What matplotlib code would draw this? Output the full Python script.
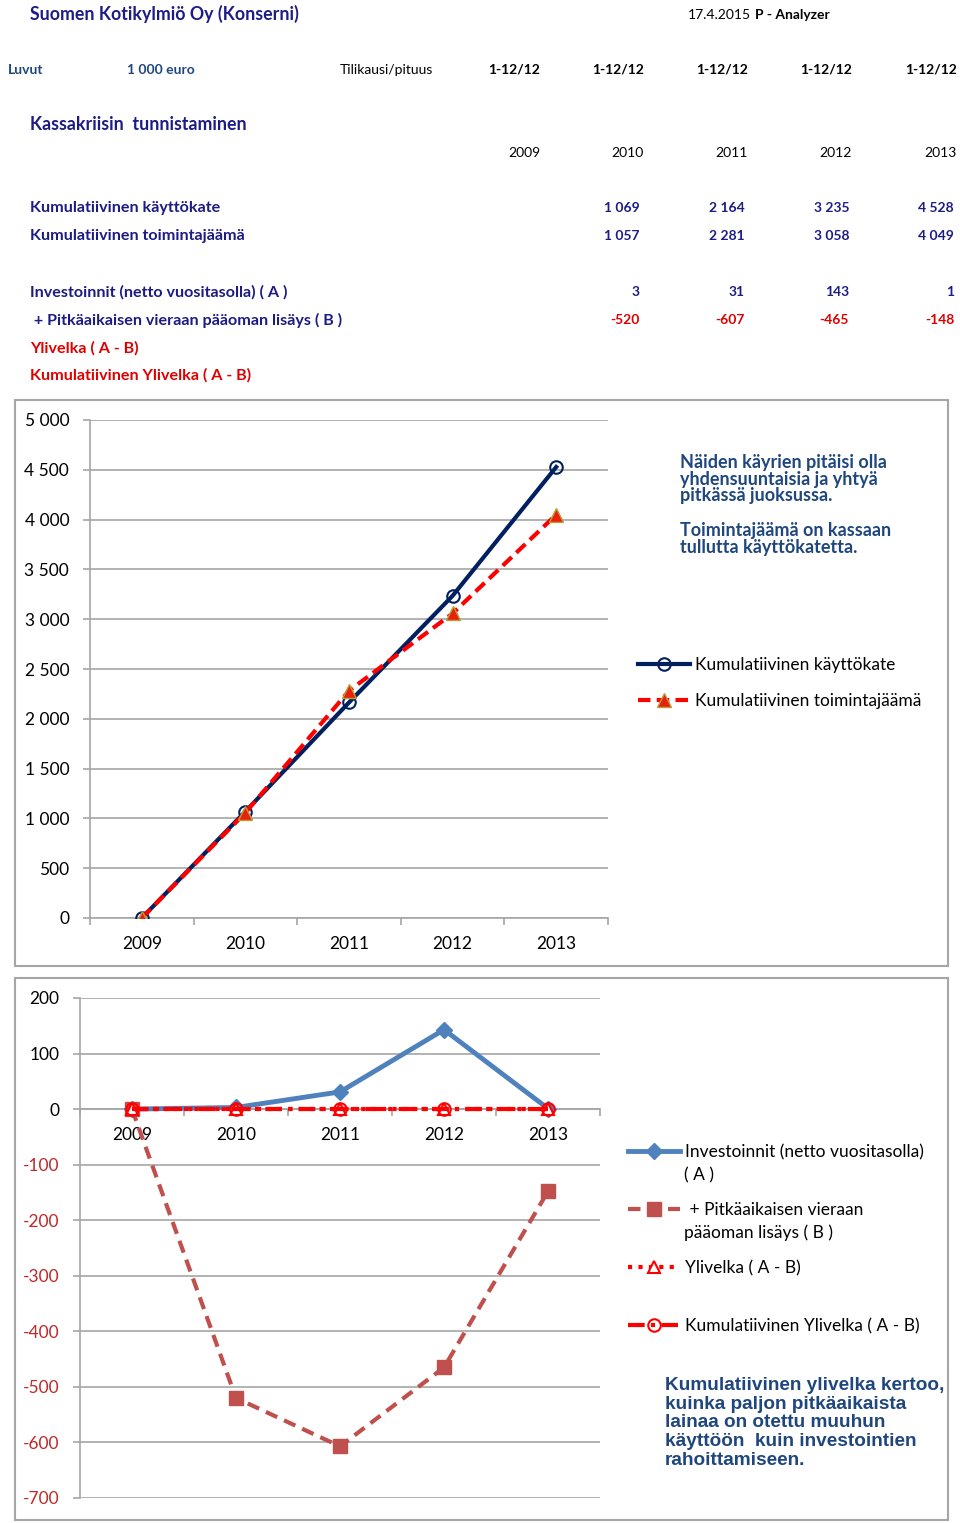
import matplotlib
matplotlib.use('Agg')
import matplotlib.pyplot as plt
from matplotlib.patches import Rectangle

# Tiedot kuvasta
vuodet = ['2009', '2010', '2011', '2012', '2013']
kaudet = ['1-12/12', '1-12/12', '1-12/12', '1-12/12', '1-12/12']
kum_kayttokate = [0, 1069, 2164, 3235, 4528]
kum_toimintajaama = [0, 1057, 2281, 3058, 4049]
investoinnit = [0, 3, 31, 143, 1]
pitkaaikainen = [0, -520, -607, -465, -148]
ylivelka = [0, 0, 0, 0, 0]
kum_ylivelka = [0, 0, 0, 0, 0]
y1_ticks = [0, 500, 1000, 1500, 2000, 2500, 3000, 3500, 4000, 4500, 5000]
y2_ticks = [-700, -600, -500, -400, -300, -200, -100, 0, 100, 200]

W, H = 960, 1523
navy = '#1c1c84'
red = '#e00000'
teksti_sin = '#1f477d'
harmaa = '#a6a6a6'
otsikko_font = ['Lato', 'DejaVu Sans']
kaavio_font = ['Lato', 'DejaVu Sans']


def fmt(v):
    return '{:,}'.format(v).replace(',', ' ')


def px(x, y):
    return x / W, 1 - y / H


fig = plt.figure(figsize=(W / 100, H / 100), dpi=100)

def teksti(x, y, s, **kw):
    kw.setdefault('family', otsikko_font)
    kw.setdefault('va', 'center')
    fig.text(*px(x, y), s, **kw)

# Yläosan taulukko
teksti(30, 14, 'Suomen Kotikylmiö Oy (Konserni)', color=navy, fontsize=12.8, weight='bold')
teksti(688, 15, '17.4.2015', color='black', fontsize=10)
teksti(755, 15, 'P - Analyzer', color='black', fontsize=10, weight='bold')
teksti(8, 70, 'Luvut', color=teksti_sin, fontsize=10, weight='bold')
teksti(127, 70, '1 000 euro', color=teksti_sin, fontsize=10, weight='bold')
teksti(340, 70, 'Tilikausi/pituus', color='black', fontsize=10)
sarake_x = [540, 644, 748, 852, 957]
for xk, k in zip(sarake_x, kaudet):
    teksti(xk, 70, k, color='black', fontsize=10, weight='bold', ha='right')
teksti(30, 125, 'Kassakriisin  tunnistaminen', color=navy, fontsize=12.8, weight='bold')
for xk, v in zip(sarake_x, vuodet):
    teksti(xk, 153, v, color='black', fontsize=10, ha='right')

arvo_x = [640, 745, 849, 954]
rivit = [
    (208, 'Kumulatiivinen käyttökate', navy, kum_kayttokate, navy),
    (236, 'Kumulatiivinen toimintajäämä', navy, kum_toimintajaama, navy),
    (292, 'Investoinnit (netto vuositasolla) ( A )', navy, investoinnit, navy),
    (320, ' + Pitkäaikaisen vieraan pääoman lisäys ( B )', navy, pitkaaikainen, red),
]
for yr, nimi, c, arvot, vc in rivit:
    teksti(30, yr, nimi, color=c, fontsize=11.6, weight='bold')
    for xk, v in zip(arvo_x, arvot[1:]):
        teksti(xk, yr, fmt(v), color=vc, fontsize=10, weight='bold', ha='right')
teksti(30, 348, 'Ylivelka ( A - B)', color=red, fontsize=11.6, weight='bold')
teksti(30, 375, 'Kumulatiivinen Ylivelka ( A - B)', color=red, fontsize=11.6, weight='bold')

# Kehykset
for x0, y0, x1, y1 in [(15, 400, 948, 966), (15, 978, 948, 1520)]:
    fig.patches.append(Rectangle(px(x0, y1), (x1 - x0) / W, (y1 - y0) / H, fill=False,
                                 ec=harmaa, lw=1.5, transform=fig.transFigure))

x = list(range(len(vuodet)))


def muotoile(ax, yticks):
    ax.set_xlim(-0.5, len(vuodet) - 0.5)
    ax.set_yticks(yticks)
    ax.grid(axis='y', color=harmaa, lw=1.2)
    ax.set_axisbelow(True)
    for s in ['top', 'right']:
        ax.spines[s].set_visible(False)
    for s in ['left', 'bottom']:
        ax.spines[s].set_color(harmaa)
        ax.spines[s].set_linewidth(1.2)
    ax.set_xticks(x)
    ax.set_xticklabels(vuodet)
    ax.set_xticks([i - 0.5 for i in range(len(vuodet) + 1)], minor=True)
    ax.tick_params(axis='x', which='major', length=0, pad=13, labelsize=12.5)
    ax.tick_params(axis='x', which='minor', length=5, color=harmaa, width=1.2)
    ax.tick_params(axis='y', length=5, color=harmaa, width=1.2, labelsize=12.5, pad=10)
    for lab in ax.get_xticklabels() + ax.get_yticklabels():
        lab.set_family(kaavio_font)


leg_kw = dict(bbox_transform=fig.transFigure, frameon=False, handlelength=3.0,
              handletextpad=0.3, borderpad=0, borderaxespad=0,
              prop={'family': kaavio_font, 'size': 12.5})

# Kaavio 1
ax1 = fig.add_axes([90 / W, (H - 918) / H, 518 / W, 498 / H])
ax1.plot(x, kum_kayttokate, color='#002060', lw=3, marker='o', ms=9, mfc='none',
         mec='#002060', mew=1.5, label='Kumulatiivinen käyttökate', zorder=3)
ax1.plot(x, kum_toimintajaama, color='#ff0000', lw=3, ls=(0, (3, 1.5)), marker='^', ms=10,
         mfc='#e8200c', mec='#b8a038', mew=1, label='Kumulatiivinen toimintajäämä', zorder=4)
ax1.set_ylim(0, 5000)
muotoile(ax1, y1_ticks)
ax1.set_yticklabels([fmt(v) for v in y1_ticks])
ax1.legend(loc='center left', bbox_to_anchor=px(638, 683), labelspacing=1.15, **leg_kw)

fig.text(*px(680, 454), 'Näiden käyrien pitäisi olla\nyhdensuuntaisia ja yhtyä\npitkässä juoksussa.',
         color=teksti_sin, fontsize=13, weight='bold', family=kaavio_font, va='top', linespacing=0.97)
fig.text(*px(680, 522), 'Toimintajäämä on kassaan\ntullutta käyttökatetta.',
         color=teksti_sin, fontsize=13, weight='bold', family=kaavio_font, va='top', linespacing=0.97)

# Kaavio 2
ax2 = fig.add_axes([80 / W, 25 / H, 520 / W, 500 / H])
l_inv, = ax2.plot(x, investoinnit, color='#4f81bd', lw=3.5, marker='D', ms=8,
                  label='Investoinnit (netto vuositasolla) ( A )', zorder=3)
l_b, = ax2.plot(x, pitkaaikainen, color='#c0504d', lw=3, ls=(0, (3, 1.8)), marker='s', ms=10,
                label=' + Pitkäaikaisen vieraan pääoman lisäys ( B )', zorder=3)
l_yv, = ax2.plot(x, ylivelka, color='#ff0000', lw=3, ls=(0, (1, 1.5)), marker='^', ms=9,
                 mfc='white', mec='#ff0000', mew=1.5, label='Ylivelka ( A - B)', zorder=4)
l_kyv, = ax2.plot(x, kum_ylivelka, color='#ff0000', lw=3, ls=(0, (4, 1.5, 1, 1.5)), marker='o',
                  ms=9, mfc='none', mec='#ff0000', mew=1.5, label='Kumulatiivinen Ylivelka ( A - B)',
                  zorder=5)
ax2.set_ylim(-700, 200)
ax2.spines['bottom'].set_position(('data', 0))
muotoile(ax2, y2_ticks)
ax2.set_yticklabels([str(v) for v in y2_ticks])
for lab, v in zip(ax2.get_yticklabels(), y2_ticks):
    lab.set_color('#c0282a' if v < 0 else 'black')

# Selite: ensimmäinen rivi kahvan kohdalla, jatkorivit erikseen (kuten Excelissä)
selite_rivit = ['Investoinnit (netto vuositasolla)', ' + Pitkäaikaisen vieraan',
                'Ylivelka ( A - B)', 'Kumulatiivinen Ylivelka ( A - B)']
jatko_rivit = ['( A )', 'pääoman lisäys ( B )', '', '']
ax2.legend(handles=[l_inv, l_b, l_yv, l_kyv], labels=selite_rivit, loc='upper left',
           bbox_to_anchor=px(628, 1144), labelspacing=2.42, **leg_kw)
for i, s in enumerate(jatko_rivit):
    if s:
        fig.text(*px(684, 1175 + 58 * i), s, fontsize=12.5, family=kaavio_font, va='center')

fig.text(*px(665, 1377), 'Kumulatiivinen ylivelka kertoo,\nkuinka paljon pitkäaikaista\n'
         'lainaa on otettu muuhun\nkäyttöön  kuin investointien\nrahoittamiseen.',
         color=teksti_sin, fontsize=13.7, weight='bold', family=['Liberation Sans', 'DejaVu Sans'],
         va='top', linespacing=1.13)

fig.savefig('out.png', dpi=100)
